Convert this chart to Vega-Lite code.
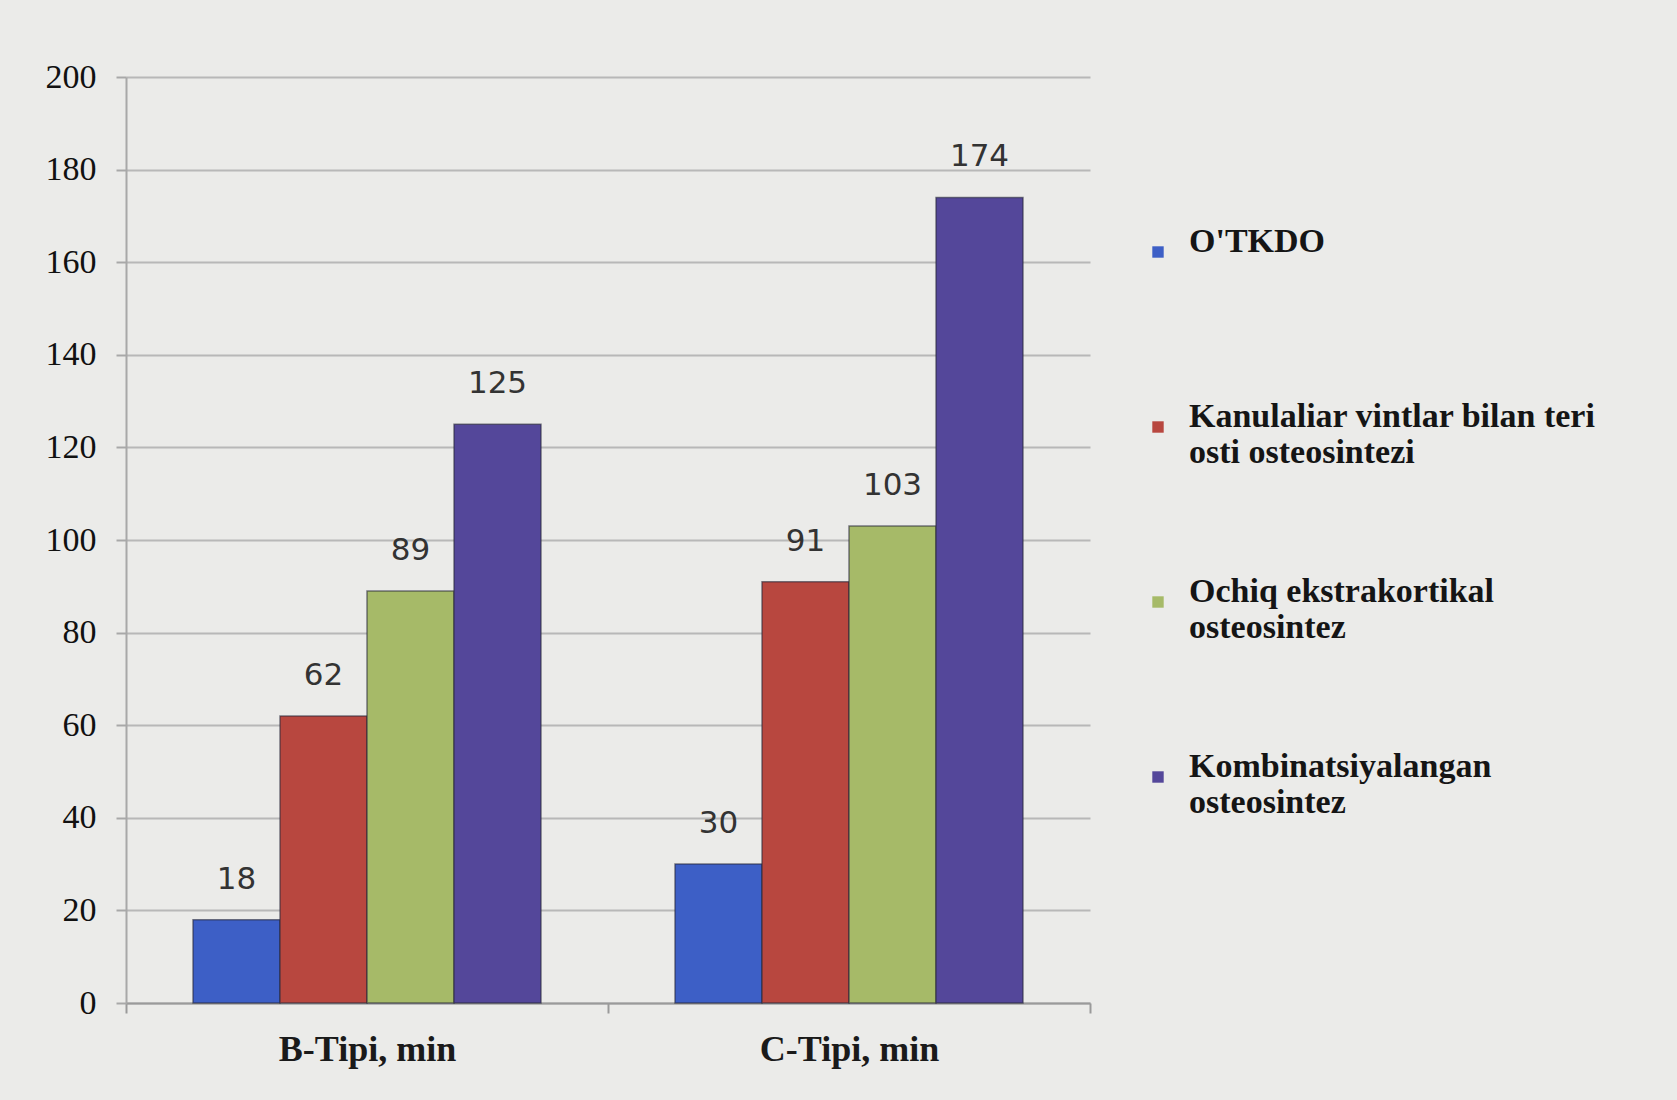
{
  "$schema": "https://vega.github.io/schema/vega-lite/v6.json",
  "autosize": {"type": "none"},
  "padding": {"left": 126, "top": 77, "right": 587, "bottom": 97},
  "width": 964,
  "height": 926,
  "background": "#ebebe9",
  "config": {"view": {"stroke": null}},
  "data": {"values": [
    {"group": "B-Tipi, min", "method": "O'TKDO", "value": 18},
    {"group": "B-Tipi, min", "method": "Kanulaliar vintlar bilan teri osti osteosintezi", "value": 62},
    {"group": "B-Tipi, min", "method": "Ochiq ekstrakortikal osteosintez", "value": 89},
    {"group": "B-Tipi, min", "method": "Kombinatsiyalangan osteosintez", "value": 125},
    {"group": "C-Tipi, min", "method": "O'TKDO", "value": 30},
    {"group": "C-Tipi, min", "method": "Kanulaliar vintlar bilan teri osti osteosintezi", "value": 91},
    {"group": "C-Tipi, min", "method": "Ochiq ekstrakortikal osteosintez", "value": 103},
    {"group": "C-Tipi, min", "method": "Kombinatsiyalangan osteosintez", "value": 174}
  ]},
  "encoding": {
    "x": {"field": "group", "type": "nominal", "title": null,
      "scale": {"paddingInner": 0, "paddingOuter": 0},
      "axis": {"labelAngle": 0, "labelFont": "Liberation Serif", "labelFontSize": 36, "labelFontWeight": "bold", "labelColor": "#1a1a1a",
        "labelPadding": 19, "tickBand": "extent", "tickSize": 10, "tickColor": "#9a9a9a", "tickWidth": 2,
        "domainColor": "#9a9a9a", "domainWidth": 2}},
    "xOffset": {"field": "method", "type": "nominal",
      "sort": ["O'TKDO", "Kanulaliar vintlar bilan teri osti osteosintezi", "Ochiq ekstrakortikal osteosintez", "Kombinatsiyalangan osteosintez"],
      "scale": {"paddingInner": 0, "paddingOuter": 0.77}},
    "y": {"field": "value", "type": "quantitative", "title": null,
      "scale": {"domain": [0, 200]},
      "axis": {"values": [0, 20, 40, 60, 80, 100, 120, 140, 160, 180, 200],
        "labelFont": "Liberation Sans Narrow", "labelFontSize": 34, "labelColor": "#111",
        "labelPadding": 20, "tickSize": 10, "tickColor": "#a8a8a8", "tickWidth": 2,
        "domainColor": "#a8a8a8", "domainWidth": 2,
        "grid": true, "gridColor": "#b8b8b8", "gridWidth": 2}}
  },
  "layer": [
    {
      "mark": {"type": "bar", "stroke": "#2a2a3a", "strokeWidth": 1.5, "strokeOpacity": 0.6},
      "encoding": {
        "color": {"field": "method", "type": "nominal",
          "sort": ["O'TKDO", "Kanulaliar vintlar bilan teri osti osteosintezi", "Ochiq ekstrakortikal osteosintez", "Kombinatsiyalangan osteosintez"],
          "scale": {"domain": ["O'TKDO", "Kanulaliar vintlar bilan teri osti osteosintezi", "Ochiq ekstrakortikal osteosintez", "Kombinatsiyalangan osteosintez"],
            "range": ["#3d5fc6", "#b8473f", "#a6ba68", "#54479a"]},
          "legend": {"orient": "none", "legendX": 1015, "legendY": 158, "title": null,
            "symbolType": "square", "symbolSize": 130, "symbolStrokeWidth": 0,
            "labelFont": "Liberation Serif", "labelFontSize": 34, "labelFontWeight": "bold", "labelColor": "#151515",
            "labelLimit": 600, "labelOffset": 14, "rowPadding": 105, "labelBaseline": "alphabetic",
            "labelExpr": "datum.label == 'Kanulaliar vintlar bilan teri osti osteosintezi' ? ['Kanulaliar vintlar bilan teri', 'osti osteosintezi'] : datum.label == 'Ochiq ekstrakortikal osteosintez' ? ['Ochiq ekstrakortikal', 'osteosintez'] : datum.label == 'Kombinatsiyalangan osteosintez' ? ['Kombinatsiyalangan', 'osteosintez'] : [datum.label, ' ']"}
        }
      }
    },
    {
      "mark": {"type": "text", "baseline": "middle", "dy": -40, "font": "DejaVu Sans", "fontSize": 31, "color": "#333333"},
      "encoding": {"text": {"field": "value", "type": "quantitative"}}
    }
  ]
}
